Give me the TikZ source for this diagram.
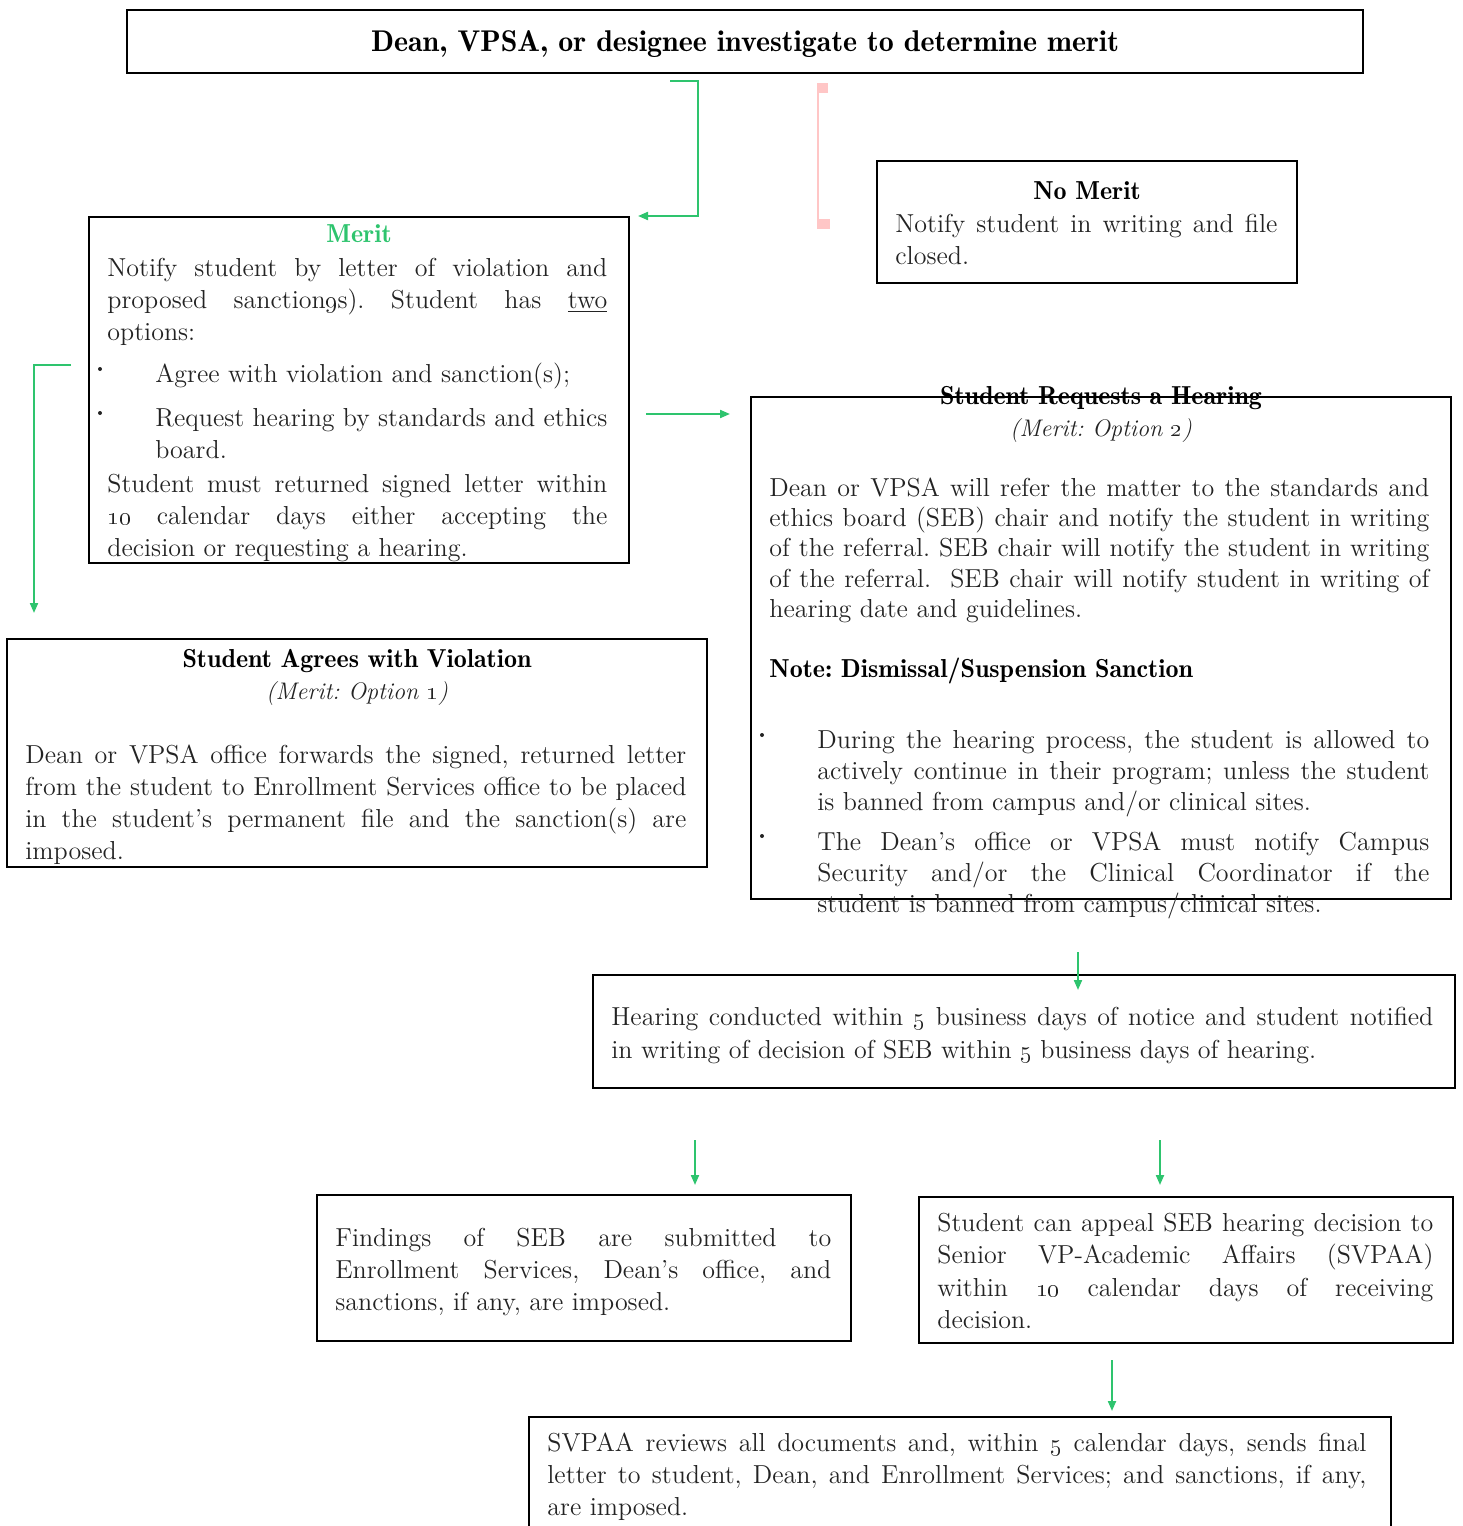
\documentclass[tikz,border=0pt]{standalone}
\usetikzlibrary{arrows.meta,fit}
\definecolor{grn}{RGB}{46,196,110}
\definecolor{pnk}{RGB}{255,198,198}
\definecolor{ink}{RGB}{35,35,35}
\newcommand{\bodyfont}{\fontsize{13}{16}\selectfont}
\newcommand{\os}[1]{\oldstylenums{#1}}
\newcommand{\lb}{\linebreak}
\frenchspacing
\begin{document}
\begin{tikzpicture}[x=0.5pt,y=-0.5pt,
  box/.style={draw=black, line width=1pt, inner sep=0pt},
  txt/.style={anchor=base west, inner sep=0pt, align=justify, text=ink, font=\bodyfont},
  hd/.style={anchor=base, inner sep=0pt, text=black, font=\fontsize{13}{16}\fontseries{b}\selectfont},
  sub/.style={anchor=base, inner sep=0pt, text=ink, font=\fontsize{12}{15}\selectfont\itshape},
  dot/.style={circle, fill=ink, inner sep=0pt, minimum size=2pt},
  conn/.style={draw=grn, line width=1pt, -{Triangle[length=5pt,width=4pt]}}]
\useasboundingbox (0,0) rectangle (1462,1526);

% boxes
\node[box, fit={(127,10)(1363,73)}] (title) {};
\node[anchor=base, inner sep=0pt, font=\fontsize{15}{18}\fontseries{b}\selectfont] (titletext) at (745,51) {Dean, VPSA, or designee investigate to determine merit};
\node[box, fit={(89,217)(629,563)}] (merit) {};
\node[box, fit={(877,161)(1297,283)}] (nomerit) {};
\node[box, fit={(751,397)(1451,899)}] (hearreq) {};
\node[box, fit={(7,639)(707,867)}] (agree) {};
\node[box, fit={(593,975)(1455,1088)}] (conduct) {};
\node[box, fit={(317,1195)(851,1341)}] (findings) {};
\node[box, fit={(919,1197)(1453,1343)}] (appeal) {};
\node[box, fit={(529,1417)(1391,1536)}] (svpaa) {};

% Merit
\node[hd, text=grn] (merith) at (359,242) {Merit};
\node[txt, text width=250pt] (merit1) at (107,276) {Notify student by letter of violation and\lb proposed sanction\os{9}s). Student has \underline{two}\lb options:};
\node[dot] (mb1) at (100,369) {};
\node[txt, text width=226pt] (merit2) at (155,382) {Agree with violation and sanction(s);};
\node[dot] (mb2) at (100,413) {};
\node[txt, text width=226pt] (merit3) at (155,426) {Request hearing by standards and ethics\lb board.};
\node[txt, text width=250pt] (merit4) at (107,492) {Student must returned signed letter within\lb \os{10} calendar days either accepting the\lb decision or requesting a hearing.};

% No merit
\node[hd] (nomerith) at (1087,199) {No Merit};
\node[txt, text width=191pt] (nomerit1) at (895,232) {Notify student in writing and file\lb closed.};

% Requests hearing
\node[hd] (hearreqh) at (1101,404) {Student Requests a Hearing};
\node[sub] (hearreqs) at (1101,436) {(Merit: Option \os{2})};
\node[txt, text width=330pt, font=\fontsize{13}{15.2}\selectfont] (hearreq1) at (769,496) {Dean or VPSA will refer the matter to the standards and\lb ethics board (SEB) chair and notify the student in writing\lb of the referral. SEB chair will notify the student in writing\lb of the referral.\ \ SEB chair will notify student in writing of\lb hearing date and guidelines.};
\node[hd, anchor=base west] (note) at (769,677) {Note: Dismissal/Suspension Sanction};
\node[dot] (hb1) at (762,735) {};
\node[txt, text width=306pt, font=\fontsize{13}{15.5}\selectfont] (hearreq2) at (817,748) {During the hearing process, the student is allowed to\lb actively continue in their program; unless the student\lb is banned from campus and/or clinical sites.};
\node[dot] (hb2) at (762,836) {};
\node[txt, text width=306pt, font=\fontsize{13}{15.5}\selectfont] (hearreq3) at (817,850) {The Dean's office or VPSA must notify Campus\lb Security and/or the Clinical Coordinator if the\lb student is banned from campus/clinical sites.};

% Agrees
\node[hd] (agreeh) at (357,667) {Student Agrees with Violation};
\node[sub] (agrees) at (357,699) {(Merit: Option \os{1})};
\node[txt, text width=330.5pt] (agree1) at (25,763) {Dean or VPSA office forwards the signed, returned letter\lb from the student to Enrollment Services office to be placed\lb in the student's permanent file and the sanction(s) are\lb imposed.};

% Conduct
\node[txt, text width=411pt, font=\fontsize{13}{16.5}\selectfont] (conduct1) at (611,1025) {Hearing conducted within \os{5} business days of notice and student notified\lb in writing of decision of SEB within \os{5} business days of hearing.};

% Findings
\node[txt, text width=248pt] (findings1) at (335,1246) {Findings of SEB are submitted to\lb Enrollment Services, Dean's office, and\lb sanctions, if any, are imposed.};

% Appeal
\node[txt, text width=248pt, font=\fontsize{13}{16.25}\selectfont] (appeal1) at (937,1231) {Student can appeal SEB hearing decision to\lb Senior VP-Academic Affairs (SVPAA)\lb within \os{10} calendar days of receiving\lb decision.};

% SVPAA
\node[txt, text width=409.5pt] (svpaa1) at (547,1451) {SVPAA reviews all documents and, within \os{5} calendar days, sends final\lb letter to student, Dean, and Enrollment Services; and sanctions, if any,\lb are imposed.};

% connectors
\coordinate (c1s) at (670,81);
\coordinate (c1e) at (638,216);
\draw[conn] (c1s) -- (698,81) |- (c1e);

\coordinate (p1) at (818,84);
\coordinate (p2) at (818,228);
\draw[pnk, line width=1pt] (p1) -- (p2);
\fill[pnk] (817,83) rectangle (828,93);
\fill[pnk] (817,219) rectangle (830,229);

\coordinate (c2s) at (71,365);
\coordinate (c2e) at (34,613);
\draw[conn] (c2s) -| (c2e);

\coordinate (c3s) at (646,414);
\coordinate (c3e) at (730,414);
\draw[conn] (c3s) -- (c3e);

\coordinate (c4s) at (1078,952);
\coordinate (c4e) at (1078,990);
\draw[conn] (c4s) -- (c4e);

\coordinate (c5s) at (695,1140);
\coordinate (c5e) at (695,1185);
\draw[conn] (c5s) -- (c5e);

\coordinate (c6s) at (1160,1140);
\coordinate (c6e) at (1160,1185);
\draw[conn] (c6s) -- (c6e);

\coordinate (c7s) at (1112,1360);
\coordinate (c7e) at (1112,1411);
\draw[conn] (c7s) -- (c7e);
\end{tikzpicture}
\end{document}
